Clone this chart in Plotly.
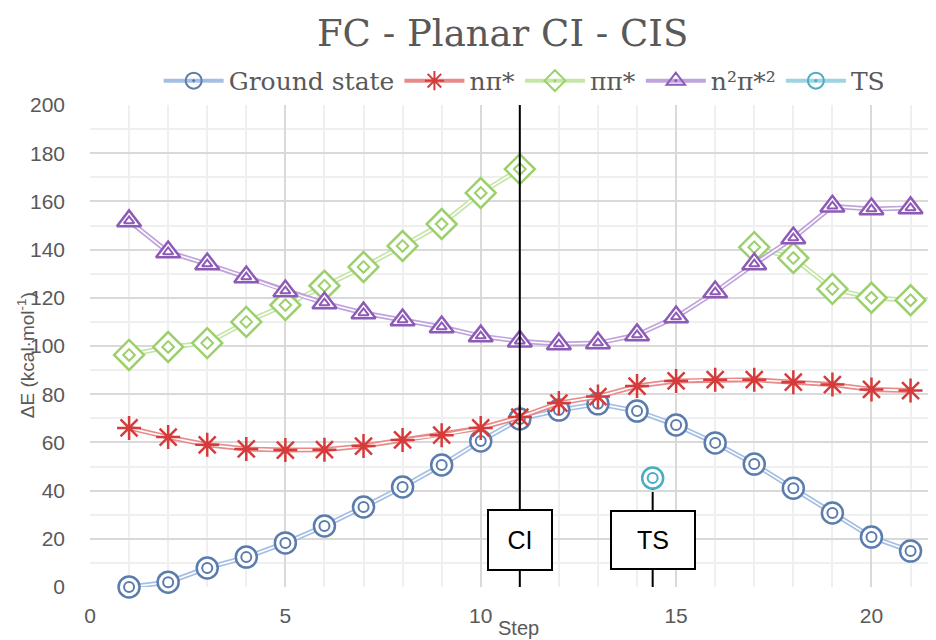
import plotly.graph_objects as go

steps = list(range(1, 22))
ground = [0, 2, 7.9, 12.4, 18.3, 25.3, 33.2, 41.5, 50.6, 60.6, 69.7, 73.4, 76, 73, 67.2, 59.8, 51, 41, 30.7, 20.7, 14.9]
npi = [66, 62.2, 59, 57.3, 56.8, 57, 58.5, 61, 63, 66, 70.5, 76.3, 79, 83.4, 85.5, 86, 86, 85, 84, 82, 81.5]
pipi = [96.3, 99.6, 101.2, 110, 117, 125, 132.8, 141.5, 150.6, 163.5, 173.4,
        None, None, None, None, None, 141, 136.5, 123.7, 120, 119]
n2pi2 = [151.9, 139, 134, 128.6, 122.8, 117.8, 113.7, 110.8, 107.9, 104.1, 102, 100.8, 101.2, 104.6, 112, 122.4, 134, 144.8, 158, 156.8, 157.3]
ts_step = [14.4]
ts_energy = [45.2]
ci_step = 11

names = ["Ground state", "nπ*", "ππ*", "n²π*²", "TS"]

TXT = "#595959"
SERIF = "DejaVu Serif"
SANS = "Liberation Sans"

fig = go.Figure()

def add_series(x, y, line_col, mark_col, outer, inner, size=21, inner_size=10, lines=True):
    if lines:
        fig.add_trace(go.Scatter(x=x, y=y, mode="lines", line=dict(color=line_col, width=5),
                                 showlegend=False, hoverinfo="skip", connectgaps=False, cliponaxis=False))
        fig.add_trace(go.Scatter(x=x, y=y, mode="lines", line=dict(color="white", width=1.6),
                                 showlegend=False, hoverinfo="skip", connectgaps=False, cliponaxis=False))
    if outer.endswith("-open"):
        fig.add_trace(go.Scatter(x=x, y=y, mode="markers", showlegend=False, cliponaxis=False,
                                 marker=dict(symbol=outer, size=size, color=mark_col,
                                             line=dict(color=mark_col, width=2.5))))
    else:
        fig.add_trace(go.Scatter(x=x, y=y, mode="markers", showlegend=False, cliponaxis=False,
                                 marker=dict(symbol=outer, size=size, color="white",
                                             line=dict(color=mark_col, width=2.5))))
    if inner:
        fig.add_trace(go.Scatter(x=x, y=y, mode="markers", showlegend=False, hoverinfo="skip",
                                 cliponaxis=False,
                                 marker=dict(symbol=inner, size=inner_size, color=mark_col,
                                             line=dict(color=mark_col, width=2))))

add_series(steps, ground, "#A4BFE3", "#5B7DAE", "circle", "circle-open")
add_series(steps, npi, "#E98A8A", "#D63B3B", "asterisk-open", None, size=20)
add_series(steps, pipi, "#C6E5A8", "#9BD06C", "diamond", "diamond-open", size=23, inner_size=9)
add_series(steps, n2pi2, "#BFA3DC", "#8E5AB8", "triangle-up", "triangle-up-open", size=21, inner_size=9)
add_series(ts_step, ts_energy, "#9FD3E0", "#4BACC6", "circle", "circle-open", lines=False)

# legend entries
leg = [("#A4BFE3", "#5B7DAE", "circle-open-dot"),
       ("#E98A8A", "#D63B3B", "asterisk-open"),
       ("#C6E5A8", "#9BD06C", "diamond-open-dot"),
       ("#BFA3DC", "#8E5AB8", "triangle-up-open-dot"),
       ("#9FD3E0", "#4BACC6", "circle-open-dot")]
for nm, (lc, mc, sym) in zip(names, leg):
    fig.add_trace(go.Scatter(x=[None], y=[None], mode="lines+markers", name=nm,
                             line=dict(color=lc, width=4),
                             marker=dict(symbol=sym, size=16, color=mc, line=dict(color=mc, width=2))))

# CI line and box
fig.add_shape(type="line", x0=ci_step, x1=ci_step, y0=0, y1=200, xref="x", yref="y",
              line=dict(color="black", width=2), layer="above")
fig.add_shape(type="line", x0=ts_step[0], x1=ts_step[0], y0=0, y1=ts_energy[0], xref="x", yref="y",
              line=dict(color="black", width=2), layer="below")
fig.add_annotation(x=ci_step, y=19.5, text="CI", showarrow=False, width=58, height=54,
                   bgcolor="white", bordercolor="black", borderwidth=2, borderpad=2,
                   font=dict(family=SANS, size=25, color="black"))
fig.add_annotation(x=ts_step[0], y=19.5, text="TS", showarrow=False, width=78, height=52,
                   bgcolor="white", bordercolor="black", borderwidth=2, borderpad=2,
                   font=dict(family=SANS, size=25, color="black"))

fig.add_annotation(x=-0.093, y=0.48, xref="paper", yref="paper", text="ΔE (kcal·mol<sup>-1</sup>)",
                   textangle=-90, showarrow=False, font=dict(family=SANS, size=19, color=TXT))
fig.add_annotation(x=0.508, y=-0.112, xref="paper", yref="paper", text="Step",
                   showarrow=False, font=dict(family=SANS, size=20, color=TXT))

# the page body adds an 8px margin, so the figure is drawn 8px smaller
fig.update_layout(
    width=928, height=632,
    margin=dict(l=82, r=2, t=97, b=53, autoexpand=False),
    paper_bgcolor="white", plot_bgcolor="white",
    title=dict(text="FC - Planar CI - CIS", x=0.533, xanchor="center", y=0.960, yanchor="middle",
               yref="container", font=dict(family=SERIF, size=37, color=TXT)),
    legend=dict(orientation="h", x=0.515, xanchor="center", y=1.05, yanchor="middle",
                font=dict(family=SERIF, size=25, color=TXT), itemwidth=60,
                bgcolor="rgba(0,0,0,0)"),
    xaxis=dict(range=[0, 21.6], dtick=5, tick0=0, showgrid=True, gridcolor="#D9D9D9", gridwidth=1.5,
               minor=dict(dtick=1, showgrid=True, gridcolor="#EFEFEF", gridwidth=1.5),
               zeroline=False, showline=False, ticks="", automargin=False, ticklabelstandoff=14,
               tickfont=dict(family=SANS, size=21, color=TXT)),
    yaxis=dict(range=[0, 200], dtick=20, tick0=0, showgrid=True, gridcolor="#D9D9D9", gridwidth=1.5,
               minor=dict(dtick=10, showgrid=True, gridcolor="#EFEFEF", gridwidth=1.5),
               zeroline=False, showline=False, ticks="", automargin=False, ticklabelstandoff=24,
               tickfont=dict(family=SANS, size=21, color=TXT)),
)

fig.write_html("out.html")
